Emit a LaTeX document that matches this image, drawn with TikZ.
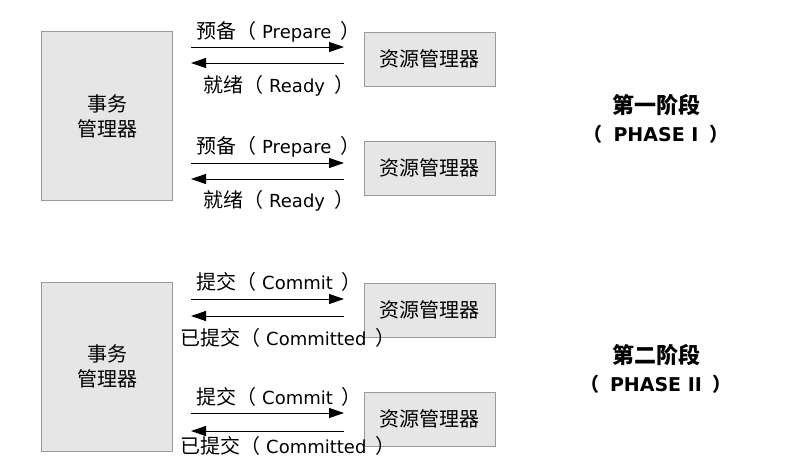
\documentclass[tikz,border=0pt]{standalone}
\usepackage{fontspec}
\setmainfont{DejaVu Sans}
\newfontfamily\cjk{Noto Sans CJK SC}
\usetikzlibrary{arrows.meta}
\definecolor{boxfill}{HTML}{E6E6E6}
\definecolor{boxline}{HTML}{9A9A9A}
\newcommand\mylbl[2]{{\cjk\fontsize{20}{22}\selectfont #1（}\hspace{6pt}#2\hspace{9pt}{\cjk\fontsize{20}{22}\selectfont ）}}
\tikzset{
  tmbox/.style={draw=boxline, fill=boxfill, line width=0.8pt, minimum width=131pt, minimum height=169pt, inner sep=0pt, align=center, font=\fontsize{20}{25}\selectfont\cjk},
  rmbox/.style={draw=boxline, fill=boxfill, line width=0.8pt, minimum width=131pt, minimum height=54pt, inner sep=0pt, font=\fontsize{20}{22}\selectfont\cjk},
  msg/.style={-{Triangle[length=15pt,width=10pt]}, line width=1pt},
  lbl/.style={inner sep=0pt, anchor=west, font=\fontsize{18}{22}\selectfont},
  phase/.style={inner sep=0pt, align=center, font=\fontsize{19}{28}\selectfont\bfseries}
}
\begin{document}
\begin{tikzpicture}[x=1pt,y=-1pt]
\useasboundingbox (0,0) rectangle (804,472);
% Phase I
\node[tmbox] (tm1) at (107,116) {事务\\管理器};
\node[rmbox] (rm1) at (429.5,59) {资源管理器};
\node[rmbox] (rm2) at (429.5,168) {资源管理器};
\coordinate (a1s) at (191,47); \coordinate (a1e) at (344,47);
\coordinate (b1s) at (344,63); \coordinate (b1e) at (191,63);
\coordinate (a2s) at (191,163); \coordinate (a2e) at (344,163);
\coordinate (b2s) at (344,179); \coordinate (b2e) at (191,179);
\draw[msg] (a1s) -- (a1e);
\draw[msg] (b1s) -- (b1e);
\draw[msg] (a2s) -- (a2e);
\draw[msg] (b2s) -- (b2e);
\node[lbl] (l1) at (196,32) {\mylbl{预备}{Prepare}};
\node[lbl] (l2) at (203,86) {\mylbl{就绪}{Ready}};
\node[lbl] (l3) at (196,147) {\mylbl{预备}{Prepare}};
\node[lbl] (l4) at (203,201) {\mylbl{就绪}{Ready}};
\node[phase] (p1) at (656,119) {{\cjk\fontsize{22}{28}\selectfont 第一阶段}\\{\cjk （}\hspace{11pt}PHASE I\hspace{11pt}{\cjk ）}};
% Phase II
\node[tmbox] (tm2) at (107,366.5) {事务\\管理器};
\node[rmbox] (rm3) at (429.5,310) {资源管理器};
\node[rmbox] (rm4) at (429.5,419) {资源管理器};
\coordinate (c1s) at (191,299); \coordinate (c1e) at (344,299);
\coordinate (d1s) at (344,316); \coordinate (d1e) at (191,316);
\coordinate (c2s) at (191,413); \coordinate (c2e) at (344,413);
\coordinate (d2s) at (344,431); \coordinate (d2e) at (191,431);
\draw[msg] (c1s) -- (c1e);
\draw[msg] (d1s) -- (d1e);
\draw[msg] (c2s) -- (c2e);
\draw[msg] (d2s) -- (d2e);
\node[lbl] (m1) at (196,282) {\mylbl{提交}{Commit}};
\node[lbl] (m2) at (180,338) {\mylbl{已提交}{Committed}};
\node[lbl] (m3) at (196,397) {\mylbl{提交}{Commit}};
\node[lbl] (m4) at (180,446) {\mylbl{已提交}{Committed}};
\node[phase] (p2) at (656,369) {{\cjk\fontsize{22}{28}\selectfont 第二阶段}\\{\cjk （}\hspace{11pt}PHASE II\hspace{11pt}{\cjk ）}};
\end{tikzpicture}
\end{document}
